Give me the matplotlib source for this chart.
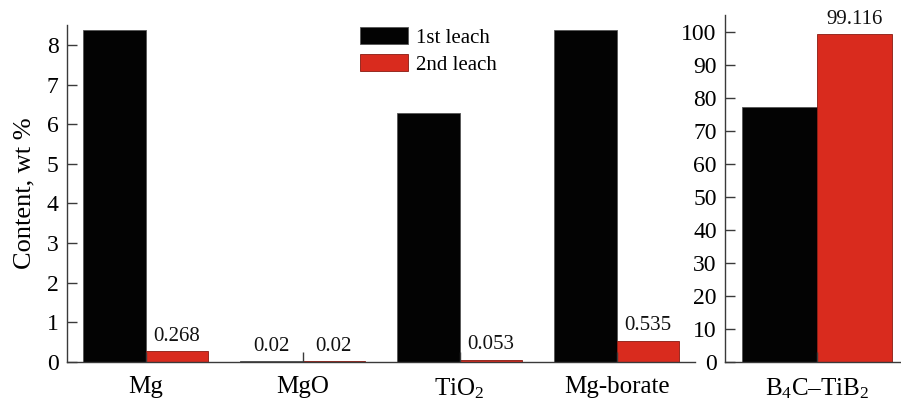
import numpy as np
import matplotlib.pyplot as plt

plt.rcParams['font.family'] = ['Liberation Serif', 'DejaVu Serif']
plt.rcParams['mathtext.fontset'] = 'custom'
plt.rcParams['mathtext.rm'] = 'Liberation Serif'
plt.rcParams['mathtext.it'] = 'Liberation Serif:italic'

# leach results, wt %
phases = ['Mg', 'MgO', r'TiO$_\mathrm{2}$', 'Mg-borate']
first_leach = [8.38, 0.02, 6.29, 8.38]
second_leach = [0.268, 0.02, 0.053, 0.535]
first_labels = [None, '0.02', None, None]
second_labels = ['0.268', '0.02', '0.053', '0.535']

residue = [r'B$_\mathrm{4}$C–TiB$_\mathrm{2}$']
residue_first = [77.3]
residue_second = [99.116]
residue_second_labels = ['99.116']

BLACK = '#030303'
RED = '#d92b1e'
AXCOL = '#3a3a3a'

fig = plt.figure(figsize=(9.01, 4.03), dpi=100)
ax1 = fig.add_axes([0.0744, 0.1017, 0.697, 0.836])
ax2 = fig.add_axes([0.8047, 0.1017, 0.1953, 0.861])

w = 0.4


def style(ax):
    for s in ['top', 'right']:
        ax.spines[s].set_visible(False)
    for s in ['left', 'bottom']:
        ax.spines[s].set_color(AXCOL)
        ax.spines[s].set_linewidth(1.0)
    ax.tick_params(axis='y', direction='in', length=7, width=1, color=AXCOL,
                   labelsize=17, pad=6)
    ax.tick_params(axis='x', direction='in', length=7, width=1, color=AXCOL,
                   labelsize=18, pad=10)


def label(ax, x, v, txt):
    if txt is None:
        return
    ax.annotate(txt, (x, v), xytext=(0, 4), textcoords='offset points',
                ha='center', va='bottom', fontsize=15, color='#111')


x = np.arange(len(phases))
ax1.bar(x - w / 2, first_leach, w, color=BLACK, edgecolor='#555',
        linewidth=0.6, label='1st leach', clip_on=False)
ax1.bar(x + w / 2, second_leach, w, color=RED, edgecolor='#8a1a10',
        linewidth=0.6, label='2nd leach', clip_on=False)
for xi, v, t in zip(x - w / 2, first_leach, first_labels):
    label(ax1, xi, v, t)
for xi, v, t in zip(x + w / 2, second_leach, second_labels):
    label(ax1, xi, v, t)

ax1.set_xlim(-0.5, 3.5)
ax1.set_ylim(0, 8.5)
ax1.set_yticks(range(0, 9))
ax1.set_xticks(x)
ax1.set_xticklabels(phases)
ax1.set_ylabel('Content, wt %', fontsize=19, labelpad=8)
style(ax1)

ax1.legend(loc='upper left', bbox_to_anchor=(0.4666, 0.995),
           frameon=False, fontsize=15, handlelength=2.3, handleheight=0.9,
           labelspacing=0.3, handletextpad=0.4, borderaxespad=0, borderpad=0)

xr = np.arange(len(residue))
ax2.bar(xr - w / 2, residue_first, w, color=BLACK, edgecolor='#555', linewidth=0.6)
ax2.bar(xr + w / 2, residue_second, w, color=RED, edgecolor='#8a1a10', linewidth=0.6)
for xi, v, t in zip(xr + w / 2, residue_second, residue_second_labels):
    label(ax2, xi, v, t)
ax2.set_xlim(-0.49, 0.45)
ax2.set_ylim(0, 105)
ax2.set_yticks(range(0, 101, 10))
ax2.set_xticks(xr)
ax2.set_xticklabels(residue)
style(ax2)

fig.savefig('out.png', dpi=100)
